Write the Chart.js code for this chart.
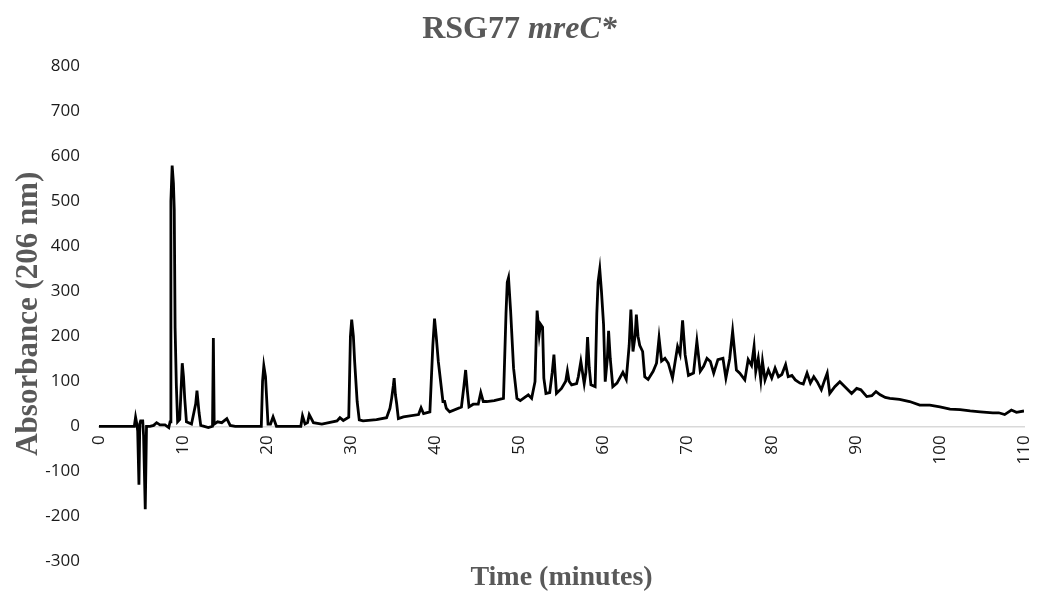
<!DOCTYPE html>
<html>
<head>
<meta charset="utf-8">
<script src="https://cdn.jsdelivr.net/npm/chart.js@4.4.0/dist/chart.umd.min.js"></script>
<style>
  html, body { margin: 0; padding: 0; background: #fff; }
  #wrap { position: relative; width: 1039px; height: 595px; }
  #judul {
    position: absolute; left: 0; top: 9px; width: 1039px;
    text-align: center; margin: 0;
    font-family: "Liberation Serif", serif; font-weight: bold; font-size: 32px;
    color: #595959;
  }
</style>
</head>
<body>
<div id="wrap">
  <h1 id="judul">RSG77 <i>mreC*</i></h1>
  <canvas id="myChart" width="1039" height="595"></canvas>
</div>
<script>
// waktu retensi (menit) dan absorbansi (206 nm)
const waktu = [
  0, 4.2, 4.35, 4.5, 4.6, 4.75, 4.85, 4.95, 5.2, 5.3, 5.5, 5.65, 6.05, 6.5, 6.85, 7.25, 7.85, 8.3,
  8.45, 8.55, 8.7, 8.85, 8.95, 9.05, 9.2, 9.35, 9.6, 9.9, 10.05, 10.2, 10.4, 11.0, 11.5, 11.65, 11.9,
  12.1, 13.0, 13.5, 13.6, 13.7, 14.1, 14.6, 15.2, 15.6, 16.2, 19.3, 19.45, 19.6, 19.8, 20.1, 20.4,
  20.7, 21.1, 24.0, 24.2, 24.5, 24.8, 25.0, 25.5, 26.5, 28.3, 28.65, 29.05, 29.7, 29.9, 30.05, 30.25,
  30.4, 30.7, 30.95, 31.4, 33, 34.2, 34.6, 34.8, 35.0, 35.1, 35.25, 35.4, 35.6, 36.2, 38.0, 38.3,
  38.6, 39.35, 39.7, 39.9, 40.1, 40.35, 40.9, 41.1, 41.3, 41.7, 43.1, 43.4, 43.6, 43.8, 44.0, 44.5,
  45.1, 45.4, 45.7, 46.1, 47, 48.1, 48.4, 48.55, 48.7, 48.95, 49.3, 49.7, 50.1, 51.05, 51.45, 51.85,
  52.0, 52.1, 52.35, 52.5, 52.75, 52.9, 53.15, 53.6, 53.9, 54.1, 54.4, 55.0, 55.5, 55.7, 55.9, 56.2,
  56.8, 57.0, 57.3, 57.7, 57.9, 58.1, 58.3, 58.5, 59.0, 59.2, 59.35, 59.55, 59.75, 60.0, 60.2, 60.45,
  60.6, 60.8, 61.1, 61.6, 62.3, 62.7, 63.05, 63.25, 63.5, 63.75, 63.9, 64.1, 64.3, 64.65, 64.9, 65.3,
  65.9, 66.3, 66.6, 66.9, 67.3, 67.7, 68.2, 68.8, 69.1, 69.4, 69.7, 70.1, 70.7, 71.1, 71.5, 71.9,
  72.3, 72.7, 73.1, 73.6, 74.2, 74.55, 75.0, 75.35, 75.8, 76.2, 76.8, 77.2, 77.6, 77.9, 78.1, 78.4,
  78.7, 78.9, 79.2, 79.6, 80.0, 80.4, 80.8, 81.2, 81.65, 81.96, 82.4, 82.8, 83.35, 83.75, 84.2, 84.6,
  85.0, 85.4, 85.9, 86.3, 86.6, 86.9, 87.5, 88.1, 88.7, 89.5, 90.1, 90.6, 91.3, 91.9, 92.4, 92.9,
  93.5, 94.05, 95.2, 96.4, 97.6, 98.8, 100.0, 101.2, 102.4, 103.6, 104.8, 106.3, 107.0, 107.7, 108.5,
  109.1, 110
];
const absorbansi = [
  0, 0, 20, 5, -10, -130, 5, 12, 12, -20, -184, 0, 0, 2, 8, 3, 3, -3,
  10, 500, 579, 540, 480, 218, 90, 10, 15, 140, 110, 60, 10, 5, 50, 79, 30,
  2, -3, 0, 196, 5, 10, 8, 17, 2, 0, 0, 100, 134, 110, 5, 5,
  21, 0, 0, 23, 5, 8, 26, 8, 5, 12, 19, 13, 20, 200, 237, 200,
  144, 55, 14, 12, 15, 19, 40, 62, 90, 107, 70, 50, 17, 21, 26, 41,
  28, 32, 180, 239, 200, 144, 55, 55, 40, 32, 43, 90, 125, 80, 43, 49,
  49, 75, 55, 55, 57, 62, 250, 320, 330, 256, 129, 62, 57, 70, 62, 99,
  200, 257, 204, 227, 220, 107, 73, 75, 120, 159, 73, 84, 100, 123, 100, 92,
  95, 110, 144, 95, 120, 198, 130, 92, 88, 250, 320, 349, 300, 227, 99, 150,
  212, 150, 88, 96, 120, 104, 180, 259, 166, 200, 248, 200, 180, 166, 110, 104,
  122, 140, 196, 145, 151, 140, 107, 177, 160, 235, 159, 113, 118, 189, 122, 133,
  151, 144, 118, 148, 151, 107, 150, 211, 125, 118, 103, 148, 135, 177, 122, 151,
  103, 144, 103, 125, 107, 129, 110, 115, 137, 110, 113, 103, 96, 94, 118, 96,
  110, 99, 81, 103, 118, 73, 88, 99, 88, 73, 84, 81, 66, 68, 77, 70,
  64, 62, 60, 55, 47, 47, 43, 38, 37, 34, 32, 30, 30, 26, 36,
  31, 34
];

const warnaJudul = '#595959';
const warnaAngka = '#1a1a1a';
const hurufJudulX = { family: '"Liberation Serif", serif', size: 28, weight: 'bold' };
const hurufJudulY = { family: '"Liberation Serif", serif', size: 31, weight: 'bold' };
const hurufAngka = { family: '"Open Sans", sans-serif', size: 17 };

document.addEventListener('DOMContentLoaded', function() {
    const ctx = document.getElementById('myChart');
    if (ctx) {
        const titik = waktu.map((t, i) => ({ x: t, y: absorbansi[i] }));

        new Chart(ctx, {
            type: 'line',
            data: {
                datasets: [{
                    data: titik,
                    borderColor: '#000',
                    borderWidth: 2.8,
                    pointRadius: 0,
                    tension: 0,
                    fill: false,
                    xAxisID: 'x'
                }]
            },
            options: {
                responsive: false,
                animation: false,
                layout: { padding: { top: 66, right: 15, bottom: 0, left: 6 } },
                plugins: {
                    legend: { display: false },
                    title: { display: false },
                    tooltip: { enabled: false }
                },
                scales: {
                    x: {
                        type: 'linear',
                        position: { y: 0 },
                        min: 0,
                        max: 110,
                        grid: { display: false, drawTicks: false },
                        border: { display: true, color: '#d9d9d9', width: 1.5 },
                        afterFit: function(skala) { skala.paddingRight = 0; skala.paddingLeft = 0; },
                        ticks: {
                            stepSize: 10,
                            minRotation: 90,
                            maxRotation: 90,
                            padding: 9,
                            color: warnaAngka,
                            font: hurufAngka
                        }
                    },
                    xJudul: {
                        type: 'linear',
                        position: 'bottom',
                        min: 0,
                        max: 110,
                        grid: { display: false, drawTicks: false },
                        border: { display: false },
                        ticks: { display: false },
                        title: {
                            display: true,
                            text: 'Time (minutes)',
                            color: warnaJudul,
                            font: hurufJudulX,
                            padding: { top: 0, bottom: 0 }
                        }
                    },
                    y: {
                        min: -300,
                        max: 800,
                        grid: { display: false, drawTicks: false },
                        border: { display: false },
                        afterFit: function(skala) { skala.width = 93; },
                        ticks: {
                            stepSize: 100,
                            padding: 19,
                            color: warnaAngka,
                            font: hurufAngka
                        },
                        title: {
                            display: true,
                            text: 'Absorbance (206 nm)',
                            color: warnaJudul,
                            font: hurufJudulY,
                            padding: { top: 4, bottom: 0 }
                        }
                    }
                }
            }
        });
    }
});
</script>
</body>
</html>
